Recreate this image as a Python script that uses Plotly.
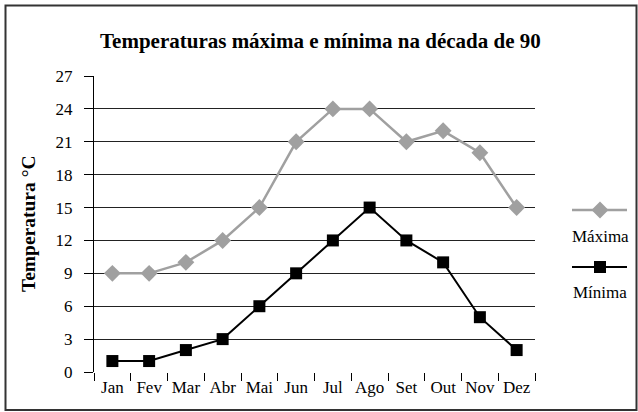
import plotly.graph_objects as go

months = ["Jan", "Fev", "Mar", "Abr", "Mai", "Jun", "Jul", "Ago", "Set", "Out", "Nov", "Dez"]
maxima = [9, 9, 10, 12, 15, 21, 24, 24, 21, 22, 20, 15]
minima = [1, 1, 2, 3, 6, 9, 12, 15, 12, 10, 5, 2]
y_ticks = [0, 3, 6, 9, 12, 15, 18, 21, 24, 27]

title_text = "Temperaturas máxima e mínima na década de 90"
y_title = "Temperatura °C"
names = ["Máxima", "Mínima"]

GRAY = "#a0a0a0"
BLACK = "#000000"
FONT = "Liberation Serif"

W, H = 638, 412
L, R, T, B = 94, 103, 76, 40
pw, ph = W - L - R, H - T - B


def px(x):
    return (x - L) / pw


def py(y):
    return (H - B - y) / ph


fig = go.Figure()
fig.add_trace(go.Scatter(x=months, y=maxima, mode="lines+markers", name=names[0],
                         line=dict(color=GRAY, width=2.5),
                         marker=dict(symbol="diamond", size=13, color=GRAY)))
fig.add_trace(go.Scatter(x=months, y=minima, mode="lines+markers", name=names[1],
                         line=dict(color=BLACK, width=2),
                         marker=dict(symbol="square", size=12, color=BLACK)))

fig.update_layout(
    width=W, height=H,
    margin=dict(l=L, r=R, t=T, b=B, autoexpand=False),
    paper_bgcolor="white", plot_bgcolor="white",
    showlegend=False,
    font=dict(family=FONT, size=17, color="black"),
    xaxis=dict(type="category", tickson="boundaries", ticks="outside", ticklen=8,
               tickcolor="black", showgrid=False, showline=False, zeroline=False,
               tickangle=0, automargin=False, ticklabelstandoff=3,
               range=[-0.5, 11.5], tickfont=dict(family=FONT, size=17, color="black")),
    yaxis=dict(range=[0, 27], tickvals=y_ticks, ticks="outside", ticklen=9,
               tickcolor="black", showgrid=True, gridcolor="#222222", gridwidth=1,
               showline=True, linecolor="black", linewidth=1, zeroline=False,
               automargin=False,
               ticklabelstandoff=8, tickfont=dict(family=FONT, size=17, color="black")),
)

# Title and axis title
fig.add_annotation(text="<b>" + title_text + "</b>", xref="paper", yref="paper",
                   x=px(320), y=py(41), showarrow=False, xanchor="center", yanchor="middle",
                   font=dict(family=FONT, size=21, color="black"))
fig.add_annotation(text="<b>" + y_title + "</b>", xref="paper", yref="paper",
                   x=px(28), y=py(224), showarrow=False, textangle=-90,
                   xanchor="center", yanchor="middle",
                   font=dict(family=FONT, size=19.5, color="black"))

# Outer border
fig.add_shape(type="rect", xref="paper", yref="paper",
              x0=px(5.5), x1=px(636.5), y0=py(410), y1=py(5.5),
              line=dict(color="#333333", width=2), fillcolor="rgba(0,0,0,0)", layer="below")

# Custom legend (line over marker, text below)
leg = [(names[0], GRAY, 2.5, "diamond", 210, 237), (names[1], BLACK, 2, "square", 267, 292)]
for name, col, lw, sym, ly, ty in leg:
    fig.add_shape(type="line", xref="paper", yref="paper",
                  x0=px(572), x1=px(627), y0=py(ly), y1=py(ly),
                  line=dict(color=col, width=lw))
    if sym == "diamond":
        path = "M -8.5 0 L 0 -8.5 L 8.5 0 L 0 8.5 Z"
    else:
        path = "M -6 -6 L 6 -6 L 6 6 L -6 6 Z"
    fig.add_shape(type="path", xref="paper", yref="paper",
                  xsizemode="pixel", ysizemode="pixel",
                  xanchor=px(600), yanchor=py(ly), path=path,
                  fillcolor=col, line=dict(color=col, width=0))
    fig.add_annotation(text=name, xref="paper", yref="paper", x=px(600), y=py(ty),
                       showarrow=False, xanchor="center", yanchor="middle",
                       font=dict(family=FONT, size=17, color="black"))

fig.write_html("out.html", config={"displayModeBar": False},
               post_script="document.body.style.margin='0';document.body.style.overflow='hidden';")
